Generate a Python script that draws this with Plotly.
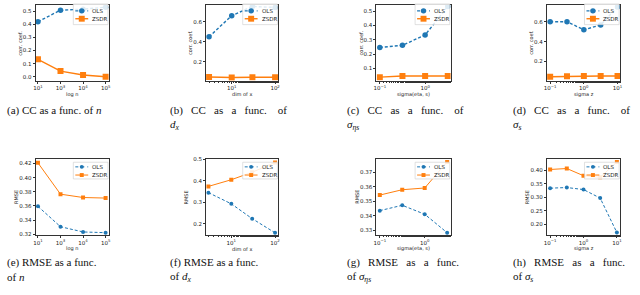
import plotly.graph_objects as go

W, H = 640, 295
BLUE = "#1f77b4"
ORANGE = "#ff7f0e"

# ---------------- data ----------------
n_cats = ["n1", "n3", "n4", "n5"]
n_ticktext = ["10<sup>1</sup>", "10<sup>3</sup>", "10<sup>4</sup>", "10<sup>5</sup>"]
dim_x = [3, 10, 30, 100]
sig_eta = [0.1, 0.316, 1.0, 3.16]
sig_s = [0.1, 0.316, 1.0, 3.16, 10.0]

cc_n_ols = [0.42, 0.507, 0.515, 0.53]
cc_n_zsdr = [0.133, 0.043, 0.013, 0.0]
cc_dim_ols = [0.45, 0.663, 0.755, 0.745]
cc_dim_zsdr = [0.047, 0.042, 0.045, 0.045]
cc_eta_ols = [0.247, 0.262, 0.334, 0.533]
cc_eta_zsdr = [0.040, 0.048, 0.048, 0.048]
cc_s_ols = [0.603, 0.603, 0.52, 0.57, 0.753]
cc_s_zsdr = [0.043, 0.047, 0.050, 0.050, 0.050]

rmse_n_ols = [0.3595, 0.3307, 0.3233, 0.3223]
rmse_n_zsdr = [0.421, 0.3767, 0.372, 0.3712]
rmse_dim_ols = [0.345, 0.293, 0.224, 0.158]
rmse_dim_zsdr = [0.374, 0.405, 0.44, 0.485]
rmse_eta_ols = [0.3435, 0.3472, 0.341, 0.3282]
rmse_eta_zsdr = [0.3543, 0.358, 0.3592, 0.3773]
rmse_s_ols = [0.3335, 0.336, 0.3285, 0.297, 0.17]
rmse_s_zsdr = [0.4025, 0.406, 0.3795, 0.3735, 0.43]

x_titles = ["log n", "dim of x", "sigma(eta, s)", "sigma z"]

NB = "\u00a0"
G2 = " " + NB * 2
captions = [
    ["(a) CC as a func. of <i>n</i>", ""],
    ["(b)" + G2 + "CC" + G2 + "as" + G2 + "a" + G2 + "func." + G2 + NB + "of", "<i>d<sub>x</sub></i>"],
    ["(c)" + G2 + "CC" + G2 + "as" + G2 + "a" + G2 + "func." + G2 + NB + "of", "<i>σ<sub>ηs</sub></i>"],
    ["(d)" + G2 + "CC" + G2 + "as" + G2 + "a" + G2 + "func." + G2 + NB + "of", "<i>σ<sub>s</sub></i>"],
    ["(e) RMSE as a func.", "of <i>n</i>"],
    ["(f) RMSE as a func.", "of <i>d<sub>x</sub></i>"],
    ["(g)" + G2 + "RMSE" + G2 + "as" + G2 + "a" + G2 + "func.", "of <i>σ<sub>ηs</sub></i>"],
    ["(h)" + G2 + "RMSE" + G2 + "as" + G2 + "a" + G2 + "func.", "of <i>σ<sub>s</sub></i>"],
]

panels = [
    dict(x=n_cats, ols=cc_n_ols, zsdr=cc_n_zsdr, xt=0, ytitle="corr. coef.",
         yr=[-0.03, 0.547], yt=[0.0, 0.1, 0.2, 0.3, 0.4, 0.5], yfmt=".1f"),
    dict(x=dim_x, ols=cc_dim_ols, zsdr=cc_dim_zsdr, xt=1, ytitle="corr. coef.",
         yr=[0.01, 0.77], yt=[0.2, 0.4, 0.6], yfmt=".1f"),
    dict(x=sig_eta, ols=cc_eta_ols, zsdr=cc_eta_zsdr, xt=2, ytitle="corr. coef.",
         yr=[0.0155, 0.543], yt=[0.1, 0.2, 0.3, 0.4, 0.5], yfmt=".1f"),
    dict(x=sig_s, ols=cc_s_ols, zsdr=cc_s_zsdr, xt=3, ytitle="corr. coef.",
         yr=[0.003, 0.773], yt=[0.2, 0.4, 0.6], yfmt=".1f"),
    dict(x=n_cats, ols=rmse_n_ols, zsdr=rmse_n_zsdr, xt=0, ytitle="RMSE",
         yr=[0.319, 0.426], yt=[0.32, 0.34, 0.36, 0.38, 0.40, 0.42], yfmt=".2f"),
    dict(x=dim_x, ols=rmse_dim_ols, zsdr=rmse_dim_zsdr, xt=1, ytitle="RMSE",
         yr=[0.148, 0.5], yt=[0.2, 0.3, 0.4, 0.5], yfmt=".1f"),
    dict(x=sig_eta, ols=rmse_eta_ols, zsdr=rmse_eta_zsdr, xt=2, ytitle="RMSE",
         yr=[0.3266, 0.3791], yt=[0.33, 0.34, 0.35, 0.36, 0.37], yfmt=".2f"),
    dict(x=sig_s, ols=rmse_s_ols, zsdr=rmse_s_zsdr, xt=3, ytitle="RMSE",
         yr=[0.161, 0.44], yt=[0.20, 0.25, 0.30, 0.35, 0.40], yfmt=".2f"),
]

# ---------------- layout geometry (px) ----------------
cols_px = [(33, 107), (205, 278), (377, 452), (549, 623)]
rows_px = [(2, 79), (159, 236)]
x_ranges = [
    [[-0.10, 3.15], [0.409, 2.076], [-1.074, 0.566], [-1.098, 1.078]],
    [[-0.10, 3.15], [0.424, 2.076], [-1.074, 0.58], [-1.098, 1.098]],
]
cap_x = [2, 167, 345, 513]
cap_y = [(109, 124), (264, 279)]


def fx(p):
    return p / W


def fy(p):
    return 1 - p / H


fig = go.Figure()
shapes = []
annotations = []
AX = "#333333"
TICKFONT = dict(family="DejaVu Sans", size=5.5, color="#222222")


def ann(x, y, text, size, family="DejaVu Sans", xanchor="center", angle=0, color="#222"):
    annotations.append(dict(x=fx(x), y=fy(y), xref="paper", yref="paper", text=text,
                            showarrow=False, xanchor=xanchor, yanchor="middle",
                            textangle=angle,
                            font=dict(family=family, size=size, color=color)))


for i, pnl in enumerate(panels):
    r, c = divmod(i, 4)
    k = i + 1
    xl, xr = cols_px[c]
    yt_, yb_ = rows_px[r]
    lw = 1.4 if r == 0 else 1.0
    ms_c = 5.5 if r == 0 else 4
    ms_s = 6 if r == 0 else 4
    fig.add_trace(go.Scatter(
        x=pnl["x"], y=pnl["ols"], mode="lines+markers", name="OLS",
        line=dict(color=BLUE, width=lw, dash="3px,2px"),
        marker=dict(symbol="circle", size=ms_c, color=BLUE),
        xaxis=f"x{k}", yaxis=f"y{k}", showlegend=False))
    fig.add_trace(go.Scatter(
        x=pnl["x"], y=pnl["zsdr"], mode="lines+markers", name="ZSDR",
        line=dict(color=ORANGE, width=lw),
        marker=dict(symbol="square", size=ms_s, color=ORANGE),
        xaxis=f"x{k}", yaxis=f"y{k}", showlegend=False))

    xt = pnl["xt"]
    xaxis = dict(domain=[fx(xl), fx(xr)], anchor=f"y{k}", range=x_ranges[r][c],
                 showline=True, linecolor=AX, linewidth=1, mirror=True,
                 ticks="outside", ticklen=2, tickwidth=0.8, tickcolor=AX,
                 tickfont=TICKFONT, showgrid=False, zeroline=False)
    minor = dict(ticks="outside", ticklen=1.2, tickcolor=AX, tickwidth=0.6)
    if xt == 0:
        xaxis.update(type="category", tickvals=n_cats, ticktext=n_ticktext)
    elif xt == 1:
        xaxis.update(type="log", tickvals=[10, 100],
                     ticktext=["10<sup>1</sup>", "10<sup>2</sup>"], minor=minor)
    elif xt == 2:
        xaxis.update(type="log", tickvals=[0.1, 1],
                     ticktext=["10<sup>−1</sup>", "10<sup>0</sup>"], minor=minor)
    else:
        xaxis.update(type="log", tickvals=[0.1, 1, 10],
                     ticktext=["10<sup>−1</sup>", "10<sup>0</sup>", "10<sup>1</sup>"], minor=minor)
    yaxis = dict(domain=[fy(yb_), fy(yt_)], anchor=f"x{k}", range=pnl["yr"],
                 showline=True, linecolor=AX, linewidth=1, mirror=True,
                 ticks="outside", ticklen=2, tickwidth=0.8, tickcolor=AX,
                 tickvals=pnl["yt"], tickformat=pnl["yfmt"],
                 tickfont=TICKFONT, showgrid=False, zeroline=False)
    fig.update_layout(**{f"xaxis{k}" if k > 1 else "xaxis": xaxis,
                         f"yaxis{k}" if k > 1 else "yaxis": yaxis})

    # axis titles
    ann((xl + xr) / 2, yb_ + 14, x_titles[xt], 5)
    yoff = 16 if r == 0 else 20
    ann(xl - yoff, (yt_ + yb_) / 2, pnl["ytitle"], 5, angle=-90)

    # legend (drawn inside top-right)
    if r == 0:
        bt, bb, e1, e2 = yt_ - 1, yt_ + 20, yt_ + 6, yt_ + 14
    else:
        bt, bb, e1, e2 = yt_ + 3, yt_ + 20, yt_ + 7.7, yt_ + 16
    bl, br = xr - 36, xr - 1
    shapes.append(dict(type="rect", xref="paper", yref="paper", layer="above",
                       x0=fx(bl), x1=fx(br), y0=fy(bb), y1=fy(bt),
                       fillcolor="rgba(255,255,255,0.85)", line=dict(color="#cccccc", width=0.6)))
    for ey, col, dash, sym, lab in [(e1, BLUE, "dot", "circle", "OLS"),
                                    (e2, ORANGE, "solid", "rect", "ZSDR")]:
        shapes.append(dict(type="line", xref="paper", yref="paper", layer="above",
                           x0=fx(bl + 2), x1=fx(bl + 15), y0=fy(ey), y1=fy(ey),
                           line=dict(color=col, width=lw, dash=dash)))
        rr = (ms_c if sym == "circle" else ms_s) / 2
        shapes.append(dict(type=sym, xref="paper", yref="paper", layer="above",
                           x0=fx(bl + 8.5 - rr), x1=fx(bl + 8.5 + rr),
                           y0=fy(ey + rr), y1=fy(ey - rr),
                           fillcolor=col, line=dict(color=col, width=0)))
        ann(bl + 17, ey, lab, 5.5, xanchor="left")

    # captions
    l1, l2 = captions[i]
    cy1, cy2 = cap_y[r]
    ann(cap_x[c], cy1, l1, 11, family="Liberation Serif", xanchor="left", color="#111")
    if l2:
        ann(cap_x[c], cy2, l2, 11, family="Liberation Serif", xanchor="left", color="#111")

fig.update_layout(width=W, height=H, margin=dict(l=0, r=0, t=0, b=0),
                  paper_bgcolor="white", plot_bgcolor="white",
                  shapes=shapes, annotations=annotations, showlegend=False)
fig.write_html("out.html", config={"displayModeBar": False},
               post_script="document.body.style.margin='0';document.body.style.overflow='hidden';")
